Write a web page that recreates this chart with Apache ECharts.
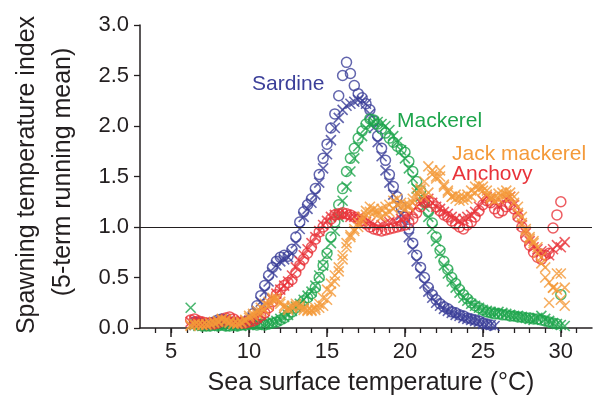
<!DOCTYPE html>
<html>
<head>
<meta charset="utf-8">
<script src="https://cdn.jsdelivr.net/npm/echarts@6/dist/echarts.min.js"></script>
<style>html,body{margin:0;padding:0;background:#fff;}#c{width:597px;height:397px;}</style>
</head>
<body>
<div id="c"></div>
<script>
// Sea surface temperature grid (°C)
const temps = [
 6.25,6.5,6.75,7, 7.25,7.5,7.75,8, 8.25,8.5,8.75,9, 9.25,9.5,9.75,10,
 10.25,10.5,10.75,11, 11.25,11.5,11.75,12, 12.25,12.5,12.75,13, 13.25,13.5,13.75,14,
 14.25,14.5,14.75,15, 15.25,15.5,15.75,16, 16.25,16.5,16.75,17, 17.25,17.5,17.75,18,
 18.25,18.5,18.75,19, 19.25,19.5,19.75,20, 20.25,20.5,20.75,21, 21.25,21.5,21.75,22,
 22.25,22.5,22.75,23, 23.25,23.5,23.75,24, 24.25,24.5,24.75,25, 25.25,25.5,25.75,26,
 26.25,26.5,26.75,27, 27.25,27.5,27.75,28, 28.25,28.5,28.75,29, 29.25,29.5,29.75,30,
 30.25
];
// Spawning temperature index (5-term running mean), circles and crosses per species
const sardineCircles = [
 null,0.06,0.05,0.04, 0.03,0.05,0.06,0.08, 0.09,0.08,0.06,0.05, 0.04,0.05,0.06,0.08,
 0.14,0.22,0.32,0.42, 0.52,0.6,0.66,0.7, 0.72,0.71,0.78,0.9, 1.05,1.15,1.22,1.28,
 1.38,1.52,1.68,1.82, 1.98,2.12,2.3,2.5, 2.63,2.52,2.4,2.32, 2.28,2.22,2.16,2.05,
 1.9,1.78,1.66,1.52, 1.4,1.3,1.2,1.1, 0.98,0.84,0.72,0.6, 0.5,0.4,0.33,0.28,
 0.24,0.21,0.19,0.16, 0.15,0.13,0.12,0.1, 0.09,0.08,0.07,0.05, 0.04,0.03,null,null,
 null,null,null,null, null,null,null,null, null,null,null,null, null,null,null,null,
 null
];
const sardineCrosses = [
 null,0.03,0.04,0.05, 0.04,0.03,0.04,0.06, 0.07,0.06,0.05,0.04, 0.04,0.04,0.05,0.07,
 0.1,0.17,0.26,0.36, 0.46,0.55,0.62,0.66, 0.68,0.7,0.74,0.84, 0.98,1.1,1.18,1.24,
 1.32,1.44,1.58,1.72, 1.86,1.98,2.08,2.16, 2.2,2.22,2.24,2.26, 2.25,2.22,2.12,1.98,
 1.84,1.7,1.56,1.44, 1.32,1.22,1.12,1.02, 0.9,0.78,0.66,0.54, 0.44,0.36,0.3,0.25,
 0.22,0.19,0.17,0.15, 0.13,0.12,0.1,0.09, 0.08,0.07,0.06,0.04, 0.03,0.03,0.02,null,
 null,null,null,null, null,null,null,null, null,null,null,null, null,null,null,null,
 null
];
const mackerelCircles = [
 null,0.04,0.03,0.02, 0.02,0.02,0.03,0.02, 0.03,0.02,0.02,0.03, 0.02,0.03,0.03,0.04,
 0.04,0.03,0.04,0.03, 0.04,0.05,0.06,0.08, 0.1,0.13,0.16,0.2, 0.23,0.27,0.3,0.34,
 0.4,0.5,0.62,0.74, 0.9,1.05,1.22,1.38, 1.55,1.68,1.78,1.88, 1.95,2.02,2.07,2.06,
 2.02,1.97,1.93,1.88, 1.84,1.8,1.77,1.74, 1.65,1.55,1.45,1.36, 1.25,1.15,1.04,0.9,
 0.77,0.66,0.58,0.5, 0.44,0.38,0.33,0.29, 0.25,0.22,0.2,0.18, 0.16,0.15,0.14,0.14,
 0.13,0.13,0.12,0.12, 0.11,0.11,0.1,0.1, 0.09,0.09,0.08,0.07, 0.06,0.05,0.04,0.33,
 null
];
const mackerelCrosses = [
 0.2,0.03,0.02,0.02, 0.02,0.02,0.02,0.03, 0.02,0.03,0.02,0.02, 0.03,0.02,0.03,0.03,
 0.04,0.03,0.05,0.04, 0.05,0.06,0.07,0.09, 0.11,0.13,0.17,0.21, 0.24,0.28,0.32,0.36,
 0.42,0.52,0.62,0.72, 0.84,0.96,1.1,1.26, 1.4,1.55,1.68,1.8, 1.9,1.98,2.02,2.04,
 2.04,2.02,2.0,1.96, 1.9,1.84,1.76,1.68, 1.58,1.48,1.38,1.3, 1.2,1.1,0.98,0.86,
 0.74,0.62,0.54,0.46, 0.4,0.35,0.3,0.27, 0.24,0.22,0.2,0.18, 0.17,0.16,0.15,0.16,
 0.15,0.14,0.13,0.12, 0.12,0.11,0.1,0.09, 0.08,0.1,0.12,0.09, 0.07,0.05,0.04,0.03,
 0.02
];
const anchovyCircles = [
 0.08,0.09,0.07,0.06, 0.05,0.05,0.04,0.05, 0.07,0.1,0.11,0.09, 0.06,0.05,0.05,0.06,
 0.07,0.09,0.12,0.15, 0.2,0.26,0.33,0.38, 0.42,0.45,0.48,0.55, 0.62,0.68,0.74,0.8,
 0.88,0.95,1.0,1.04, 1.08,1.12,1.13,1.14, 1.13,1.12,1.1,1.08, 1.06,1.03,1.0,0.98,
 0.97,0.96,0.97,0.98, 0.99,1.0,1.01,1.02, 1.04,1.08,1.14,1.2, 1.24,1.26,1.24,1.2,
 1.16,1.12,1.1,1.06, 1.03,1.0,0.98,1.02, 1.05,1.1,1.16,1.22, 1.26,1.24,1.18,1.14,
 1.16,1.2,1.22,1.18, 1.1,1.0,0.9,0.82, 0.75,0.7,0.68,0.72, 0.74,0.99,1.12,1.25,
 null
];
const anchovyCrosses = [
 0.06,0.07,0.06,0.05, 0.04,0.04,0.05,0.06, 0.08,0.09,0.08,0.07, 0.05,0.05,0.06,0.07,
 0.08,0.1,0.13,0.17, 0.22,0.28,0.34,0.38, 0.42,0.46,0.52,0.6, 0.66,0.72,0.78,0.84,
 0.9,0.96,1.02,1.06, 1.1,1.12,1.13,1.12, 1.12,1.1,1.1,1.09, 1.07,1.05,1.04,1.02,
 1.0,1.02,1.04,1.05, 1.06,1.04,1.08,1.1, 1.12,1.16,1.2,1.24, 1.26,1.28,1.24,1.2,
 1.18,1.15,1.13,1.1, 1.08,1.06,1.08,1.1, 1.12,1.15,1.2,1.26, 1.3,1.28,1.24,1.22,
 1.24,1.28,1.3,1.22, 1.12,1.02,0.94,0.86, 0.8,0.78,0.76,0.74, 0.72,0.78,0.82,0.8,
 0.85
];
const jackCrossesA = [
 0.03,0.04,0.03,0.03, 0.03,0.04,0.05,0.06, 0.08,0.07,0.05,0.04, 0.04,0.05,0.07,0.1,
 0.12,0.14,0.16,0.18, 0.22,0.28,0.3,0.26, 0.22,0.2,0.22,0.24, 0.22,0.2,0.18,0.17,
 0.18,0.2,0.22,0.28, 0.36,0.46,0.56,0.68, 0.8,0.9,0.96,1.0, 1.06,1.12,1.15,1.14,
 1.12,1.1,1.13,1.15, 1.18,1.22,1.2,1.18, 1.22,1.28,1.34,1.36, 1.3,1.34,1.52,1.5,
 1.56,1.42,1.36,1.3, 1.28,1.26,1.3,1.28, 1.3,1.34,1.38,1.4, 1.36,1.3,1.26,1.28,
 1.3,1.32,1.34,1.3, 1.2,1.1,0.98,0.9, 0.86,0.8,0.7,0.6, 0.45,0.4,0.38,0.54,
 0.4
];
const jackCrossesB = [
 0.02,0.03,0.04,0.03, 0.04,0.05,0.06,0.07, 0.09,0.08,0.06,0.05, 0.05,0.06,0.08,0.12,
 0.14,0.17,0.2,0.24, 0.26,0.3,0.28,0.24, 0.2,0.18,0.2,0.22, 0.2,0.18,0.17,0.18,
 0.2,0.24,0.3,0.38, 0.44,0.52,0.6,0.72, 0.84,0.92,0.98,1.04, 1.1,1.16,1.2,1.18,
 1.16,1.18,1.2,1.22, 1.26,1.28,1.24,1.22, 1.2,1.24,1.3,1.38, 1.45,1.6,1.56,1.48,
 1.5,1.4,1.34,1.3, 1.32,1.3,1.27,1.32, 1.36,1.4,1.42,1.36, 1.32,1.28,1.3,1.33,
 1.34,1.36,1.3,1.24, 1.14,1.04,0.96,0.88, 0.84,0.74,0.64,0.5, 0.25,0.4,0.54,0.28,
 0.22
];
const xMajorTicks = [5,10,15,20,25,30];
const xMinorTicks = [4,5,6,7,8,9,10,11,12,13,14,15,16,17,18,19,20,21,22,23,24,25,26,27,28,29,30,31];
const speciesNames = ['Sardine','Mackerel','Jack mackerel','Anchovy'];

const C = {sardine:'#3b3f99', mackerel:'#1ea54c', jack:'#f49a3a', anchovy:'#e8333a'};
const ink = '#231f20';
const FONT = '"Liberation Sans", Arial, Helvetica, sans-serif';
const X_PATH = 'path://M0,0L10,10M10,0L0,10';

function pts(ys){ return temps.map((t,i)=>[t, ys[i]]).filter(d=>d[1]!=null); }
function circ(name, ys, col){
  return {type:'scatter', name, data:pts(ys), symbol:'circle', symbolSize:10,
    itemStyle:{color:'rgba(0,0,0,0)', borderColor:col, borderWidth:1.5}, silent:true};
}
function cross(name, ys, col){
  return {type:'scatter', name, data:pts(ys), symbol:X_PATH, symbolSize:10,
    itemStyle:{color:'rgba(0,0,0,0)', borderColor:col, borderWidth:1.6}, silent:true};
}

const chart = echarts.init(document.getElementById('c'), null, {renderer:'canvas'});
const series = [
  circ('Sardine', sardineCircles, C.sardine),
  cross('Sardine', sardineCrosses, C.sardine),
  circ('Mackerel', mackerelCircles, C.mackerel),
  cross('Mackerel', mackerelCrosses, C.mackerel),
  circ('Anchovy', anchovyCircles, C.anchovy),
  cross('Anchovy', anchovyCrosses, C.anchovy),
  cross('Jack mackerel', jackCrossesA, C.jack),
  cross('Jack mackerel', jackCrossesB, C.jack)
];
series[0].markLine = {silent:true, symbol:['none','none'], label:{show:false},
  lineStyle:{color:ink, width:1.2, type:'solid'}, data:[{yAxis:1}]};

chart.setOption({
  animation:false,
  backgroundColor:'#fff',
  grid:{left:140, right:5, top:25, bottom:69},
  xAxis:[{
    type:'value', min:3, max:32, position:'bottom',
    axisLine:{show:true, onZero:false, lineStyle:{color:ink, width:1.5}},
    axisTick:{show:true, customValues:xMajorTicks, length:9, lineStyle:{color:ink, width:1.5}},
    axisLabel:{customValues:xMajorTicks, fontSize:22, margin:13, color:ink, fontFamily:FONT},
    splitLine:{show:false}
  },{
    type:'value', min:3, max:32, position:'bottom',
    axisLine:{show:false},
    axisTick:{show:true, customValues:xMinorTicks, length:5, lineStyle:{color:ink, width:1.3}},
    axisLabel:{show:false},
    splitLine:{show:false}
  }],
  yAxis:{
    type:'value', min:0, max:3, interval:0.5,
    axisLine:{show:true, lineStyle:{color:ink, width:1.5}},
    axisTick:{show:true, length:6, lineStyle:{color:ink, width:1.3}},
    axisLabel:{fontSize:22, margin:11, color:ink, fontFamily:FONT, formatter:v=>v.toFixed(1)},
    splitLine:{show:false}
  },
  series,
  graphic:[
    {type:'text', left:252, top:74, style:{text:speciesNames[0], fill:C.sardine, font:'21px '+FONT}},
    {type:'text', left:397, top:111, style:{text:speciesNames[1], fill:C.mackerel, font:'21px '+FONT}},
    {type:'text', left:452, top:144, style:{text:speciesNames[2], fill:C.jack, font:'21px '+FONT}},
    {type:'text', left:452, top:164, style:{text:speciesNames[3], fill:C.anchovy, font:'21px '+FONT}},
    {type:'text', x:371, y:383, style:{text:'Sea surface temperature (°C)', fill:ink, font:'25px '+FONT, textAlign:'center', textVerticalAlign:'middle'}},
    {type:'text', x:27, y:175, rotation:Math.PI/2, style:{text:'Spawning temperature index', fill:ink, font:'25px '+FONT, textAlign:'center', textVerticalAlign:'middle'}},
    {type:'text', x:63, y:172, rotation:Math.PI/2, style:{text:'(5-term running mean)', fill:ink, font:'25px '+FONT, textAlign:'center', textVerticalAlign:'middle'}}
  ]
});
</script>
</body>
</html>
